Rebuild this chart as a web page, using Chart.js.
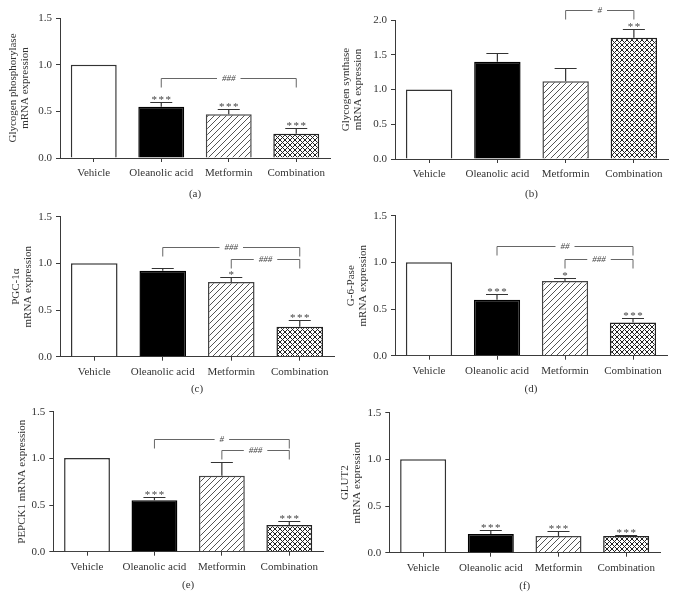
<!DOCTYPE html>
<html>
<head>
<meta charset="utf-8">
<script src="https://cdn.jsdelivr.net/npm/chart.js@4.4.1/dist/chart.umd.min.js"></script>
<style>
  html, body { margin: 0; padding: 0; background: #fff; }
  #fig { position: relative; width: 675px; height: 599px; overflow: hidden; }
  #fig canvas { position: absolute; }
</style>
</head>
<body>
<div id="fig"></div>
<script>
// bar chart panels (a)-(f), mRNA expression relative to vehicle

const categories = ['Vehicle', 'Oleanolic acid', 'Metformin', 'Combination'];

// (a) glycogen phosphorylase
const phosMean     = [1.00, 0.55, 0.47, 0.26];
const phosErr      = [0, 0.05, 0.05, 0.06];
const phosStars    = ['', '***', '***', '***'];
const phosBrackets = [{ from: 1, to: 3, y: 0.86, label: '###' }];

// (b) glycogen synthase
const synMean     = [1.00, 1.40, 1.12, 1.745];
const synErr      = [0, 0.13, 0.19, 0.125];
const synStars    = ['', '', '', '**'];
const synBrackets = [{ from: 2, to: 3, y: 2.15, label: '#' }];

// (c) PGC-1α
const pgcMean     = [1.00, 0.92, 0.80, 0.32];
const pgcErr      = [0, 0.03, 0.05, 0.07];
const pgcStars    = ['', '', '*', '***'];
const pgcBrackets = [
    { from: 1, to: 3, y: 1.18,  label: '###' },
    { from: 2, to: 3, y: 1.047, label: '###' },
];

// (d) G-6-Pase
const g6pMean     = [1.00, 0.60, 0.80, 0.355];
const g6pErr      = [0, 0.06, 0.035, 0.045];
const g6pStars    = ['', '***', '*', '***'];
const g6pBrackets = [
    { from: 1, to: 3, y: 1.175, label: '##' },
    { from: 2, to: 3, y: 1.036, label: '###' },
];

// (e) PEPCK1
const pepMean     = [1.005, 0.55, 0.815, 0.285];
const pepErr      = [0, 0.035, 0.145, 0.045];
const pepStars    = ['', '***', '', '***'];
const pepBrackets = [
    { from: 1, to: 3, y: 1.21, label: '#' },
    { from: 2, to: 3, y: 1.09, label: '###' },
];

// (f) GLUT2
const glutMean     = [1.00, 0.20, 0.18, 0.18];
const glutErr      = [0, 0.04, 0.055, 0.015];
const glutStars    = ['', '***', '***', '***'];
const glutBrackets = [];

const TEXT  = '#333';
const AXIS  = '#3a3a3a';
const FONT  = '"Liberation Serif", "DejaVu Serif", serif';
const TITLE_LH = 12;

// fill patterns for metformin (diagonal) and combination (cross hatch)
function makeHatch() {
    const c = document.createElement('canvas');
    c.width = 6; c.height = 6;
    const g = c.getContext('2d');
    g.fillStyle = '#fff';
    g.fillRect(0, 0, 6, 6);
    g.strokeStyle = '#555';
    g.lineWidth = 1;
    g.beginPath();
    g.moveTo(0, 6); g.lineTo(6, 0);
    g.moveTo(-1, 1); g.lineTo(1, -1);
    g.moveTo(5, 7); g.lineTo(7, 5);
    g.stroke();
    return g.createPattern(c, 'repeat');
}

function makeCross() {
    const c = document.createElement('canvas');
    c.width = 5; c.height = 5;
    const g = c.getContext('2d');
    g.fillStyle = '#fff';
    g.fillRect(0, 0, 5, 5);
    g.strokeStyle = '#222';
    g.lineWidth = 1;
    g.beginPath();
    g.moveTo(0, 5); g.lineTo(5, 0);
    g.moveTo(0, 0); g.lineTo(5, 5);
    g.stroke();
    return g.createPattern(c, 'repeat');
}

const hatch = makeHatch();
const cross = makeCross();

// error bars, significance stars and comparison brackets
const sigPlugin = {
    id: 'sig',
    afterDatasetsDraw(chart, args, o) {
        const { ctx } = chart;
        const y = chart.scales.y;
        const bars = chart.getDatasetMeta(0).data;
        ctx.save();

        ctx.strokeStyle = '#333';
        ctx.lineWidth = 1.2;
        bars.forEach((bar, i) => {
            if (!o.err[i]) return;
            const yt = Math.round(y.getPixelForValue(o.mean[i] + o.err[i])) + 0.5;
            ctx.beginPath();
            ctx.moveTo(bar.x, bar.y);
            ctx.lineTo(bar.x, yt);
            ctx.moveTo(bar.x - 11, yt);
            ctx.lineTo(bar.x + 11, yt);
            ctx.stroke();
        });

        ctx.fillStyle = '#444';
        ctx.font = '11px ' + FONT;
        ctx.textAlign = 'center';
        ctx.textBaseline = 'alphabetic';
        bars.forEach((bar, i) => {
            const s = o.stars[i];
            if (!s) return;
            const yt = y.getPixelForValue(o.mean[i] + o.err[i]);
            for (let k = 0; k < s.length; k++) {
                ctx.fillText('*', bar.x + (k - (s.length - 1) / 2) * 7, yt + 1);
            }
        });

        ctx.font = 'italic 9px ' + FONT;
        ctx.textBaseline = 'middle';
        o.brackets.forEach(b => {
            const x1 = bars[b.from].x, x2 = bars[b.to].x;
            const yy = Math.round(y.getPixelForValue(b.y)) + 0.5;
            const gap = ctx.measureText(b.label).width + 10;
            const xm = (x1 + x2) / 2;
            ctx.strokeStyle = '#666';
            ctx.lineWidth = 1;
            ctx.beginPath();
            ctx.moveTo(x1, yy + 9); ctx.lineTo(x1, yy); ctx.lineTo(xm - gap / 2, yy);
            ctx.moveTo(xm + gap / 2, yy); ctx.lineTo(x2, yy); ctx.lineTo(x2, yy + 9);
            ctx.stroke();
            ctx.fillText(b.label, xm, yy);
        });

        ctx.restore();
    },
};

// panel layout: canvas box + wanted plot area + title positions
const panels = [
    { tag: '(a)', title: ['Glycogen phosphorylase', 'mRNA expression'], yMax: 1.5,
      mean: phosMean, err: phosErr, stars: phosStars, brackets: phosBrackets,
      x0: 0, y0: 0, w: 337, h: 205, L: 60, R: 330, T: 18, B: 158, titleX: 13, tagY: 194 },
    { tag: '(b)', title: ['Glycogen synthase', 'mRNA expression'], yMax: 2.0,
      mean: synMean, err: synErr, stars: synStars, brackets: synBrackets,
      x0: 337, y0: 0, w: 338, h: 205, L: 395, R: 668, T: 20, B: 159, titleX: 346, tagY: 194 },
    { tag: '(c)', title: ['PGC-1α', 'mRNA expression'], yMax: 1.5,
      mean: pgcMean, err: pgcErr, stars: pgcStars, brackets: pgcBrackets,
      x0: 0, y0: 197, w: 337, h: 205, L: 60, R: 334, T: 216.7, B: 356.7, titleX: 16, tagY: 389 },
    { tag: '(d)', title: ['G-6-Pase', 'mRNA expression'], yMax: 1.5,
      mean: g6pMean, err: g6pErr, stars: g6pStars, brackets: g6pBrackets,
      x0: 337, y0: 197, w: 338, h: 205, L: 395, R: 667, T: 215.7, B: 355.7, titleX: 351, tagY: 389 },
    { tag: '(e)', title: 'PEPCK1 mRNA expression', yMax: 1.5,
      mean: pepMean, err: pepErr, stars: pepStars, brackets: pepBrackets,
      x0: 0, y0: 394, w: 337, h: 205, L: 53.3, R: 323, T: 411.7, B: 551.7, titleX: 22, tagY: 585 },
    { tag: '(f)', title: ['GLUT2', 'mRNA expression'], yMax: 1.5,
      mean: glutMean, err: glutErr, stars: glutStars, brackets: glutBrackets,
      x0: 337, y0: 394, w: 338, h: 205, L: 389.3, R: 660, T: 412.7, B: 552.7, titleX: 345, tagY: 586 },
];

const fig = document.getElementById('fig');

panels.forEach(p => {
    const cv = document.createElement('canvas');
    cv.width = p.w;
    cv.height = p.h;
    cv.style.left = p.x0 + 'px';
    cv.style.top = p.y0 + 'px';
    cv.style.width = p.w + 'px';
    cv.style.height = p.h + 'px';
    fig.appendChild(cv);

    const yW = p.L - p.x0;
    const xH = p.y0 + p.h - p.B;
    const tagLH = 11 * 1.2;

    new Chart(cv, {
        type: 'bar',
        data: {
            labels: categories,
            datasets: [{
                data: p.mean,
                backgroundColor: ['#fff', '#000', hatch, cross],
                borderColor: ['#333', '#000', '#444', '#222'],
                borderWidth: 1.5,
                borderSkipped: 'bottom',
                barPercentage: 0.68,
                categoryPercentage: 1,
            }],
        },
        options: {
            responsive: false,
            animation: false,
            devicePixelRatio: 1,
            layout: {
                padding: { top: p.T - p.y0, right: p.x0 + p.w - p.R, left: 0, bottom: 0 },
            },
            plugins: {
                legend: { display: false },
                tooltip: { enabled: false },
                sig: { mean: p.mean, err: p.err, stars: p.stars, brackets: p.brackets },
            },
            scales: {
                x: {
                    offset: true,
                    grid: { drawOnChartArea: false, drawTicks: true, tickLength: 4, offset: false, color: AXIS },
                    border: { display: true, color: AXIS, width: 1 },
                    ticks: { color: TEXT, font: { family: FONT, size: 11 }, padding: 5, maxRotation: 0, autoSkip: false },
                    title: {
                        display: true, text: p.tag, color: TEXT,
                        font: { family: FONT, size: 11, lineHeight: 1.2 },
                        padding: { top: 0, bottom: p.y0 + p.h - tagLH / 2 - p.tagY },
                    },
                    afterFit(scale) { scale.height = xH; },
                },
                y: {
                    min: 0,
                    max: p.yMax,
                    grid: { drawOnChartArea: false, drawTicks: true, tickLength: 4, color: AXIS },
                    border: { display: true, color: AXIS, width: 1 },
                    ticks: {
                        stepSize: 0.5, color: TEXT, padding: 4,
                        font: { family: FONT, size: 11 },
                        callback: v => v.toFixed(1),
                    },
                    title: {
                        display: true, text: p.title, color: TEXT,
                        font: { family: FONT, size: 11, lineHeight: TITLE_LH / 11 },
                        padding: { top: p.titleX - p.x0 - TITLE_LH / 2, bottom: 0 },
                    },
                    afterFit(scale) { scale.width = yW; },
                },
            },
        },
        plugins: [sigPlugin],
    });
});
</script>
</body>
</html>
